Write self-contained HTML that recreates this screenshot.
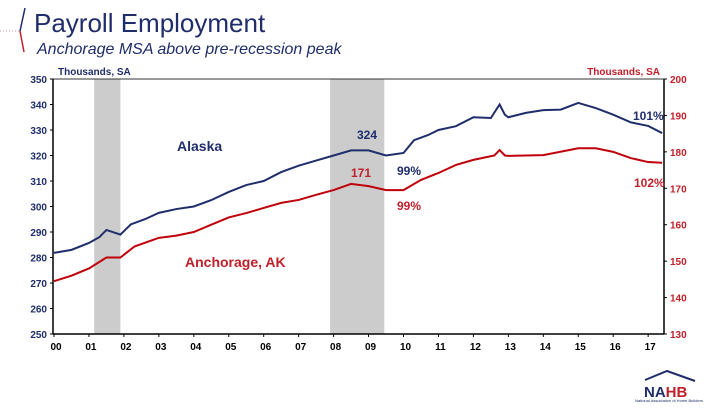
<!DOCTYPE html>
<html><head><meta charset="utf-8"><style>
body{margin:0;width:720px;height:405px;background:#fff;overflow:hidden;font-family:"Liberation Sans",sans-serif;}
svg text{font-family:"Liberation Sans",sans-serif;}
</style></head><body>
<svg width="720" height="405" xmlns="http://www.w3.org/2000/svg" id="chart">
<line x1="0" y1="31" x2="20" y2="31" stroke="#c8a0a0" stroke-dasharray="1,2"/>
<line x1="25" y1="8" x2="20" y2="31" stroke="#1f2d6b" stroke-width="1.5"/>
<line x1="20" y1="31" x2="24" y2="52" stroke="#c0202a" stroke-width="1.5"/>
<text x="34" y="32" font-size="26" fill="#1f2d6b">Payroll Employment</text>
<text x="37" y="54" font-size="16" font-style="italic" fill="#1f2d6b">Anchorage MSA above pre-recession peak</text>
<g id="plot"></g>
<g>
<polyline points="645,380 667,371 695,381" fill="none" stroke="#1f2d6b" stroke-width="2"/>
<text x="644" y="397" font-size="15" font-weight="bold" fill="#1f2d6b">NA<tspan fill="#c0202a">HB</tspan></text>
<text x="669" y="402" font-size="4" text-anchor="middle" fill="#1f2d6b">National Association of Home Builders</text>
</g>
</svg>
<script>
const years=[0,1,2,3,4,5,6,7,8,9,10,11,12,13,14,15,16,17];
const leftTicks=[250,260,270,280,290,300,310,320,330,340,350];
const rightTicks=[130,140,150,160,170,180,190,200];
const recessions=[[1.15,1.9],[7.9,9.45]];
const akT=[0,0.5,1,1.3,1.5,1.9,2.2,2.6,3,3.5,4,4.5,5,5.5,6,6.5,7,7.5,8,8.5,9,9.5,10,10.3,10.7,11,11.5,12,12.5,12.75,12.9,13,13.5,14,14.5,15,15.5,16,16.5,17,17.4];
const akV=[281.8,283,285.7,288,290.8,289,293,295,297.5,299,300,302.5,305.7,308.4,310,313.5,316,318,320,322,322,320,321,326,328,330,331.5,335,334.7,340,336,335,336.7,337.8,338,340.6,338.6,336,333,331.6,328.8];
const anT=[0,0.5,1,1.5,1.9,2.3,3,3.5,4,4.5,5,5.5,6,6.5,7,7.5,8,8.5,9,9.5,10,10.5,11,11.5,12,12.6,12.75,12.9,13,14,15,15.5,16,16.5,17,17.4];
const anV=[144.5,146,148,151,151,154,156.4,157,158,160,162,163.2,164.6,166,166.8,168.2,169.5,171.2,170.6,169.5,169.5,172.3,174.2,176.4,177.8,179,180.5,179,178.9,179.1,181,181,180,178.3,177.2,177];
const L=53,R=664,T=79,B=334;
const x=t=>54+t*34.95, yl=v=>B-(v-250)/100*(B-T), yr=v=>B-(v-130)/70*(B-T);
const g=document.getElementById('plot');const NS='http://www.w3.org/2000/svg';
function mk(tag,attrs,txt){const e=document.createElementNS(NS,tag);for(const k in attrs)e.setAttribute(k,attrs[k]);if(txt!==undefined)e.textContent=txt;g.appendChild(e);return e;}
recessions.forEach(r=>{const e=mk('rect',{x:x(r[0]),y:T,width:x(r[1])-x(r[0]),height:B-T,fill:'#cccccc'});

});
let e=mk('line',{x1:L,y1:T,x2:R,y2:T,stroke:'#333','stroke-width':1});


e=mk('line',{x1:L,y1:T,x2:L,y2:B,stroke:'#000','stroke-width':1.5});


e=mk('line',{x1:R,y1:T,x2:R,y2:B,stroke:'#000','stroke-width':1.5});


e=mk('line',{x1:L,y1:B,x2:R,y2:B,stroke:'#000','stroke-width':1.5});


leftTicks.forEach(v=>{mk('line',{x1:L-3,y1:yl(v),x2:L,y2:yl(v),stroke:'#000'});
e=mk('text',{x:L-6,y:yl(v)+4,'font-size':10,'font-weight':'bold','text-anchor':'end',fill:'#1f2d6b'},v);

});
rightTicks.forEach(v=>{mk('line',{x1:R,y1:yr(v),x2:R+3,y2:yr(v),stroke:'#000'});
e=mk('text',{x:R+6,y:yr(v)+4,'font-size':10,'font-weight':'bold',fill:'#c0202a'},v);

});
years.forEach(t=>{mk('line',{x1:x(t),y1:B,x2:x(t),y2:B+3,stroke:'#000'});
e=mk('text',{x:x(t)+2,y:B+16,'font-size':10,'font-weight':'bold','text-anchor':'middle',fill:'#000'},String(t).padStart(2,'0'));

});
e=mk('text',{x:58,y:75,'font-size':10,'font-weight':'bold',fill:'#1f2d6b'},'Thousands, SA');


e=mk('text',{x:660,y:75,'font-size':10,'font-weight':'bold','text-anchor':'end',fill:'#c0202a'},'Thousands, SA');


e=mk('polyline',{points:anT.map((t,i)=>x(t)+','+yr(anV[i])).join(' '),fill:'none',stroke:'#c0000a','stroke-width':2});


e=mk('polyline',{points:akT.map((t,i)=>x(t)+','+yl(akV[i])).join(' '),fill:'none',stroke:'#1f2d6b','stroke-width':2});


const labels=[['Alaska',177,151,14,'#1f2d6b','alaska-label','start'],['Anchorage, AK',185,267,14,'#c0202a','anchorage-label','start'],
['324',357,139,12,'#1f2d6b','alaska-peak-value','start'],['171',351,177,12,'#c0202a','anchorage-peak-value','start'],
['99%',397,175,12,'#1f2d6b','alaska-trough-pct','start'],['99%',397,210,12,'#c0202a','anchorage-trough-pct','start'],
['101%',633,120,12,'#1f2d6b','alaska-current-pct','start'],['102%',634,187,12,'#c0202a','anchorage-current-pct','start']];
labels.forEach(l=>{e=mk('text',{x:l[1],y:l[2],'font-size':l[3],'font-weight':'bold',fill:l[4]},l[0]);

});
</script>
</body></html>
